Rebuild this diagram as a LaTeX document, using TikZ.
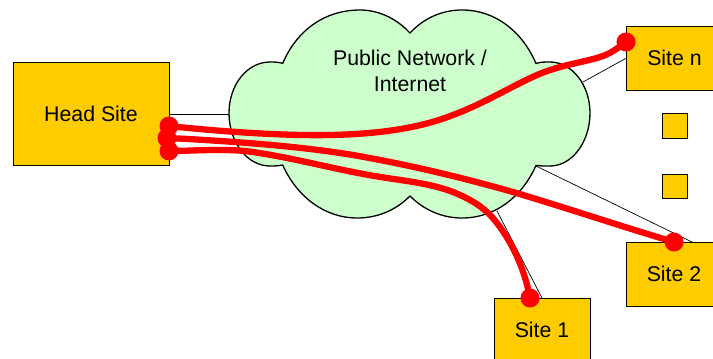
\documentclass[tikz,border=0pt]{standalone}
\usepackage{fontspec}
\setmainfont{Liberation Sans}
\definecolor{siteyellow}{HTML}{FFCC00}
\definecolor{cloudgreen}{HTML}{CCFFCC}
\tikzset{
  site/.style={draw=black,line width=1pt,fill=siteyellow,inner sep=0pt,font=\fontsize{21.3}{25}\selectfont,text=black},
  link/.style={draw=black,line width=0.7pt},
  tunnel/.style={draw=red,line width=6.3pt,line cap=round},
  enddot/.style={circle,fill=red,inner sep=0pt,minimum size=19pt},
}
\begin{document}
\begin{tikzpicture}[x=1pt,y=-1pt]
\useasboundingbox (0,0) rectangle (713,359);
% sites
\node[site,minimum width=156pt,minimum height=103pt] (head) at (91,113.5) {Head Site};
\node[site,minimum width=96pt,minimum height=64pt] (siten) at (674.5,58) {Site n};
\node[site,minimum width=96pt,minimum height=64pt] (site2) at (674,274) {Site 2};
\node[site,minimum width=96pt,minimum height=64pt] (site1) at (542,330) {Site 1};
\node[site,minimum width=25pt,minimum height=24.5pt] (dota) at (674.5,126) {};
\node[site,minimum width=25pt,minimum height=24.5pt] (dotb) at (674.5,186.5) {};
% cloud anchors
\coordinate (cl) at (229,114);
\coordinate (cn) at (583,82);
\coordinate (c2) at (536,166);
\coordinate (c1) at (497,211);
\coordinate (hl) at (169,114);
\coordinate (nl) at (626.5,58);
\coordinate (tl) at (692,242);
\coordinate (sl) at (542,298);
% thin links
\draw[link] (hl) -- (cl);
\draw[link] (nl) -- (cn);
\draw[link] (tl) -- (c2);
\draw[link] (sl) -- (c1);
% cloud
\draw[fill=cloudgreen,draw=black,line width=1.3pt]
  (410,33) .. controls (396,18) and (378,10) .. (360,10)
  .. controls (325,10) and (297,30) .. (282.7,63.3)
  .. controls (278,62) and (274,62) .. (270,62)
  .. controls (247,62) and (229,85) .. (229,113)
  .. controls (229,142) and (247,166) .. (270,166)
  .. controls (274,166) and (278,166) .. (282.7,165)
  .. controls (297,197) and (325,218) .. (357,218)
  .. controls (378,218) and (396,210) .. (410,196)
  .. controls (424,210) and (442,218) .. (462,218)
  .. controls (495,218) and (522,197) .. (536,165.5)
  .. controls (540,166) and (545,166) .. (550,166)
  .. controls (572,166) and (590,142) .. (590,113)
  .. controls (590,85) and (572,62) .. (550,62)
  .. controls (545,62) and (540,62) .. (536,63.5)
  .. controls (522,31) and (495,10) .. (462,10)
  .. controls (442,10) and (424,18) .. (410,33) -- cycle;
\node[align=center,font=\fontsize{21.3}{25.5}\selectfont,text=black] (net) at (410,71) {Public Network /\\Internet};
% end dots
\node[enddot] (ha) at (169,126) {};
\node[enddot] (hb) at (167,138) {};
\node[enddot] (hc) at (169,151) {};
\node[enddot] (en) at (626,42) {};
\node[enddot] (e2) at (674,242) {};
\node[enddot] (e1) at (530,298) {};
% tunnels
\draw[tunnel] (ha.center) .. controls (215,131) and (280,136) .. (330,135)
  .. controls (380,134) and (420,128) .. (453,115)
  .. controls (485,103) and (510,87) .. (537,75)
  .. controls (560,65) and (585,62) .. (600,57)
  .. controls (610,54) and (618,48) .. (en.center);
\draw[tunnel] (hb.center) .. controls (190,139) and (205,140) .. (220,141)
  .. controls (265,144) and (310,148) .. (353,155)
  .. controls (410,165) and (460,177) .. (513,192)
  .. controls (570,209) and (620,226) .. (e2.center);
\draw[tunnel] (hc.center) .. controls (195,151) and (225,148) .. (253,152)
  .. controls (300,159) and (340,171) .. (387,178)
  .. controls (410,181.5) and (432,184) .. (453,192)
  .. controls (468,198) and (478,204) .. (487,212)
  .. controls (500,224) and (522,255) .. (e1.center);
\end{tikzpicture}
\end{document}
